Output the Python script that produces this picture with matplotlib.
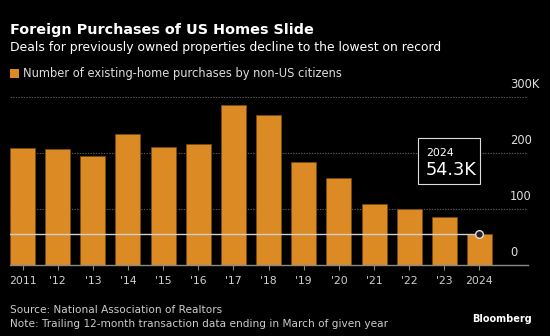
import matplotlib.pyplot as plt
from matplotlib.patches import Rectangle
from matplotlib.transforms import blended_transform_factory

# data (thousands of existing-home purchases by non-US citizens)
years = ['2011', "'12", "'13", "'14", "'15", "'16", "'17", "'18", "'19", "'20", "'21", "'22", "'23", '2024']
purchases = [209.0, 205.8, 193.6, 232.6, 209.6, 214.9, 284.5, 266.8, 183.1, 154.1, 107.3, 98.6, 84.6, 54.3]
y_ticks = [0, 100, 200, 300]
y_labels = ['0', '100', '200', '300K']

BG = '#000000'
BAR = '#DB8A24'
GRID = '#5a5a5a'

plt.rcParams['font.family'] = ['DejaVu Sans']

fig = plt.figure(figsize=(5.5, 3.36), dpi=100, facecolor=BG)
ax = fig.add_axes([10 / 550, 1 - 264.5 / 336, 518 / 550, (264.5 - 96.7) / 336])
ax.set_facecolor(BG)

x = list(range(len(years)))
ax.bar(x, purchases, width=0.71, color=BAR, edgecolor='#7a4a10', linewidth=0.6, zorder=2)

ax.set_xlim(-0.356, 14.38)
ax.set_ylim(0, 300)

# gridlines
for t in y_ticks[1:]:
    ax.axhline(t, color=GRID, linestyle=(0, (1.2, 1.2)), linewidth=0.8, zorder=1)

# y labels placed above gridlines, on the right
tr = blended_transform_factory(ax.transAxes, ax.transData)
for t, lab in zip(y_ticks, y_labels):
    ax.annotate(lab, xy=(0.965, t), xycoords=tr, xytext=(0, 4), textcoords='offset points',
                ha='left', va='bottom', color='#dddddd', fontsize=8.3)

# latest value reference line and marker
last = purchases[-1]
ax.plot([-0.356, x[-1]], [last, last], color='#cfcfcf', linewidth=1.0, zorder=3)
ax.plot(x[-1], last, marker='o', markersize=5.5, markerfacecolor='#222222',
        markeredgecolor='#e0e0e0', markeredgewidth=1.0, zorder=4)

# annotation box
box = Rectangle((418 / 550, 1 - 184 / 336), 62 / 550, 46 / 336, transform=fig.transFigure,
                facecolor=BG, edgecolor='#dddddd', linewidth=0.8, zorder=1)
fig.patches.append(box)
fig.text(426 / 550, 1 - 156 / 336, '2024', color='white',
         fontsize=7.8, va='baseline', ha='left', zorder=6)
fig.text(425.5 / 550, 1 - 175 / 336, f'{last:.1f}K', color='white', fontsize=12.8,
         va='baseline', ha='left', zorder=6)

# x axis
for s in ['top', 'right', 'left']:
    ax.spines[s].set_visible(False)
ax.spines['bottom'].set_color('#8a8a8a')
ax.spines['bottom'].set_linewidth(1.0)
ax.set_xticks(x)
ax.set_xticklabels(years, color='#d0d0d0', fontsize=7.8)
ax.tick_params(axis='x', colors='#8a8a8a', length=3.5, width=0.8, pad=5, labelcolor='#d0d0d0')
ax.set_yticks([])

# titles
fig.text(10 / 550, 1 - 34 / 336, 'Foreign Purchases of US Homes Slide', color='white',
         fontsize=10.4, fontweight='bold', ha='left', va='baseline')
fig.text(10 / 550, 1 - 51.5 / 336, 'Deals for previously owned properties decline to the lowest on record',
         color='white', fontsize=8.9, ha='left', va='baseline')

# legend
fig.patches.append(Rectangle((10 / 550, 1 - 77.5 / 336), 9 / 550, 9 / 336, transform=fig.transFigure,
                             facecolor=BAR, edgecolor='none'))
fig.text(23 / 550, 1 - 76.5 / 336, 'Number of existing-home purchases by non-US citizens',
         color='#dddddd', fontsize=8.3, ha='left', va='baseline')

# footer
fig.text(10 / 550, 1 - 313 / 336, 'Source: National Association of Realtors', color='#cccccc',
         fontsize=7.6, ha='left', va='baseline')
fig.text(10 / 550, 1 - 327 / 336, 'Note: Trailing 12-month transaction data ending in March of given year',
         color='#cccccc', fontsize=7.6, ha='left', va='baseline')
fig.text(532 / 550, 1 - 321.7 / 336, 'Bloomberg', color='white', fontsize=7.0, fontweight='bold',
         ha='right', va='baseline')

fig.savefig('out.png', dpi=100, facecolor=BG)
